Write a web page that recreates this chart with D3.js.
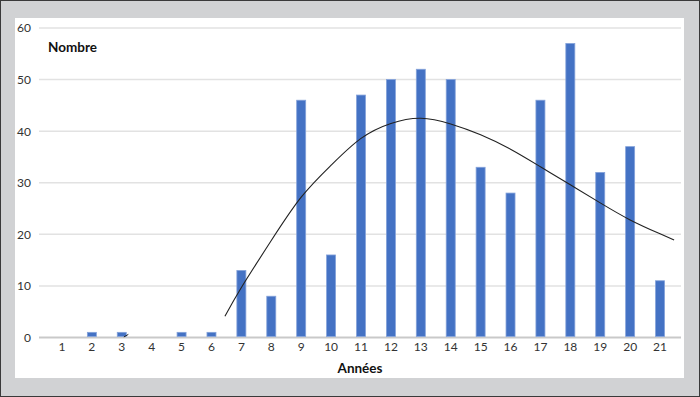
<!DOCTYPE html>
<html>
<head>
<meta charset="utf-8">
<script src="https://cdn.jsdelivr.net/npm/d3@7"></script>
<style>
  body { margin: 0; background: #fff; }
  svg { display: block; font-family: Lato, "Open Sans", sans-serif; }
</style>
</head>
<body>
<svg></svg>
<script>

var years = d3.range(1, 22)
var counts = [0, 1, 1, 0, 1, 1, 13, 8, 46, 16, 47, 50, 52, 50, 33, 28, 46, 57, 32, 37, 11]
var yTicks = [0, 10, 20, 30, 40, 50, 60]

// tendance (année, valeur)
var trendX = [6.45, 7, 8, 9, 10, 11, 12, 13, 14, 15, 16, 17, 18, 19, 20, 21, 21.47]
var trendY = [4.1, 9.7, 18.8, 27.2, 33.4, 38.6, 41.5, 42.5, 41.4, 39.3, 36.5, 33.1, 29.6, 26.1, 22.8, 20.1, 18.9]
var stubX = [3.07, 3.22]
var stubY = [0.1, 0.6]

var W = 700, H = 397

var svg = d3.select('svg')
   .attr('width', W)
   .attr('height', H)

svg.append('rect')
   .attr('x', 0.5).attr('y', 0.5)
   .attr('width', W - 1).attr('height', H - 1)
   .attr('fill', '#d1d2d4')
   .attr('stroke', '#3a3a3a')

svg.append('rect')
   .attr('x', 15).attr('y', 18)
   .attr('width', 669).attr('height', 360)
   .attr('fill', '#fff')

var x = d3.scaleBand()
   .domain(years)
   .range([47, 675])

var xc = d3.scaleLinear()
   .domain([1, 21])
   .range([x(1) + x.bandwidth() / 2, x(21) + x.bandwidth() / 2])

var y = d3.scaleLinear()
   .domain([0, 60])
   .range([337.5, 28])

// grille
svg.append('g')
   .selectAll('line')
   .data(yTicks.filter(function (d) { return d > 0; }))
   .enter()
   .append('line')
   .attr('x1', 39).attr('x2', 681)
   .attr('y1', function (d) { return y(d); })
   .attr('y2', function (d) { return y(d); })
   .attr('stroke', '#e2e2e2')
   .attr('stroke-width', 1.5)

svg.append('line')
   .attr('x1', 39).attr('x2', 681)
   .attr('y1', y(0)).attr('y2', y(0))
   .attr('stroke', '#c9c9c9')
   .attr('stroke-width', 2)

// axes
var yAxis = svg.append('g')
   .attr('transform', 'translate(31,0)')
   .call(d3.axisLeft(y).tickValues(yTicks).tickSize(0).tickPadding(0))
yAxis.select('.domain').remove()
yAxis.selectAll('text')
   .attr('font-size', 12)
   .attr('fill', '#333')
   .attr('font-family', 'Lato, sans-serif')

var xAxis = svg.append('g')
   .attr('transform', 'translate(0,' + (y(0) + 5) + ')')
   .call(d3.axisBottom(x).tickSize(0).tickPadding(0))
xAxis.select('.domain').remove()
xAxis.selectAll('text')
   .attr('font-size', 12)
   .attr('fill', '#333')
   .attr('font-family', 'Lato, sans-serif')

// barres
var bw = 9
svg.append('g')
   .selectAll('rect')
   .data(years.map(function (yr, i) { return { yr: yr, v: counts[i] }; }).filter(function (d) { return d.v > 0; }))
   .enter()
   .append('rect')
   .attr('x', function (d) { return x(d.yr) + x.bandwidth() / 2 - bw / 2; })
   .attr('width', bw)
   .attr('y', function (d) { return y(d.v); })
   .attr('height', function (d) { return y(0) - y(d.v) - 1; })
   .attr('fill', '#4472c4')
   .attr('stroke', '#84a2da')
   .attr('stroke-width', 0.8)

// courbe de tendance
var line = d3.line()
   .x(function (d) { return xc(d[0]); })
   .y(function (d) { return y(d[1]); })
   .curve(d3.curveNatural)

svg.append('path')
   .datum(d3.zip(trendX, trendY))
   .attr('d', line)
   .attr('fill', 'none')
   .attr('stroke', '#222')
   .attr('stroke-width', 1.1)

svg.append('path')
   .datum(d3.zip(stubX, stubY))
   .attr('d', d3.line().x(function (d) { return xc(d[0]); }).y(function (d) { return y(d[1]); }))
   .attr('fill', 'none')
   .attr('stroke', '#222')
   .attr('stroke-width', 1)

// titres
svg.append('text')
   .attr('x', 48).attr('y', 52)
   .attr('font-size', 13.5)
   .attr('font-weight', 'bold')
   .attr('fill', '#111')
   .text('Nombre')

svg.append('text')
   .attr('x', 360).attr('y', 373)
   .attr('text-anchor', 'middle')
   .attr('font-size', 13.5)
   .attr('font-weight', 'bold')
   .attr('fill', '#111')
   .text('Années')

</script>
</body>
</html>
